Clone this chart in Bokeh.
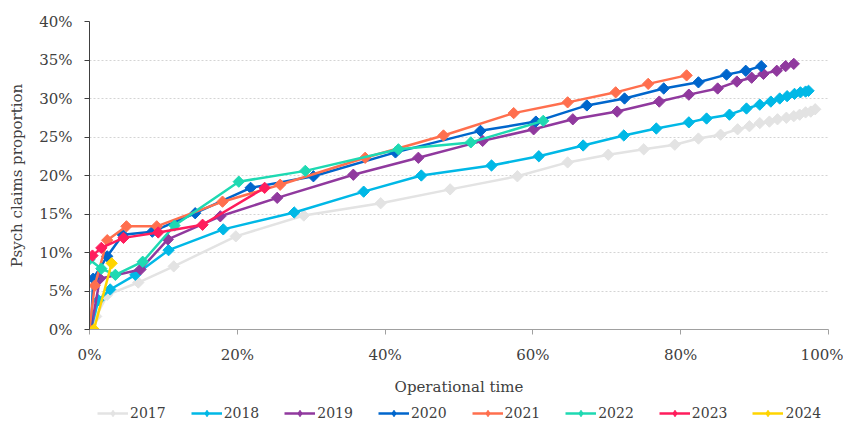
import numpy as np
from bokeh.plotting import figure
from bokeh.layouts import column
from bokeh.models import Range1d, FixedTicker, CustomJSTickFormatter, Legend, LegendItem
from bokeh.embed import file_html
from bokeh.resources import INLINE

# ---------------- data (percent) ----------------
years = ["2017", "2018", "2019", "2020", "2021", "2022", "2023", "2024"]
colors = ["#E3E3E3", "#00B8E6", "#90399E", "#0066CC", "#FF6F4E", "#1ED9B2", "#FF1D5C", "#FFD400"]

x_2017 = [0.2, 0.9, 2.4, 6.6, 11.4, 19.8, 29.0, 39.4, 48.8, 57.9, 64.7, 70.2, 75.0, 79.2,
          82.4, 85.4, 87.7, 89.3, 90.7, 92.0, 93.1, 94.3, 95.3, 96.1, 96.9, 97.6, 98.2]
y_2017 = [0.0, 1.7, 4.5, 6.1, 8.2, 12.1, 14.8, 16.4, 18.2, 19.9, 21.7, 22.7, 23.4, 24.0,
          24.8, 25.3, 26.0, 26.4, 26.8, 27.0, 27.3, 27.5, 27.7, 27.9, 28.2, 28.3, 28.6]

x_2018 = [0.2, 1.2, 2.8, 6.2, 10.7, 18.1, 27.7, 37.1, 44.9, 54.4, 60.8, 66.8, 72.3, 76.7,
          81.1, 83.5, 86.6, 88.9, 90.7, 92.2, 93.4, 94.4, 95.4, 96.2, 96.9, 97.3]
y_2018 = [0.0, 3.8, 5.2, 7.1, 10.3, 13.0, 15.2, 17.9, 20.0, 21.3, 22.5, 23.9, 25.2, 26.1,
          26.9, 27.4, 27.9, 28.7, 29.2, 29.6, 30.0, 30.3, 30.6, 30.8, 30.9, 31.0]

x_2019 = [0.2, 1.4, 6.9, 10.6, 17.7, 25.4, 35.7, 44.5, 53.2, 60.1, 65.4, 71.4, 77.1, 81.1,
          85.0, 87.6, 89.6, 91.2, 93.0, 94.2, 95.3]
y_2019 = [0.0, 6.6, 7.8, 11.7, 14.7, 17.1, 20.1, 22.3, 24.5, 26.0, 27.3, 28.3, 29.6, 30.5,
          31.3, 32.2, 32.7, 33.2, 33.6, 34.2, 34.5]

x_2020 = [0.2, 0.5, 2.4, 4.5, 8.5, 14.3, 21.8, 30.3, 41.4, 52.9, 60.4, 67.3, 72.4, 77.7,
          82.4, 86.2, 88.8, 90.9]
y_2020 = [0.0, 6.6, 9.5, 12.3, 12.7, 15.1, 18.4, 19.9, 23.0, 25.8, 27.0, 29.1, 30.0, 31.3,
          32.1, 33.1, 33.6, 34.2]

x_2021 = [0.0, 0.7, 2.4, 5.0, 9.1, 18.0, 25.8, 37.3, 47.9, 57.4, 64.7, 71.2, 75.6, 80.8]
y_2021 = [0.0, 5.7, 11.6, 13.4, 13.4, 16.6, 18.8, 22.3, 25.2, 28.1, 29.5, 30.8, 31.9, 33.0]

x_2022 = [0.0, 1.6, 3.5, 7.2, 11.5, 20.2, 29.2, 41.8, 51.6, 61.4]
y_2022 = [9.1, 7.9, 7.1, 8.8, 13.5, 19.2, 20.6, 23.4, 24.3, 27.1]

x_2023 = [0.4, 1.6, 4.6, 9.3, 15.3, 23.7]
y_2023 = [9.6, 10.6, 11.9, 12.6, 13.6, 18.4]

x_2024 = [0.6, 3.0]
y_2024 = [0.0, 8.6]

xs = [x_2017, x_2018, x_2019, x_2020, x_2021, x_2022, x_2023, x_2024]
ys = [y_2017, y_2018, y_2019, y_2020, y_2021, y_2022, y_2023, y_2024]

x_ticks = [0, 20, 40, 60, 80, 100]
y_ticks = [0, 5, 10, 15, 20, 25, 30, 35, 40]

FONT = "DejaVu Serif"
TXT = "#404040"

# ---------------- main chart ----------------
p = figure(frame_width=739, frame_height=308, output_backend="svg", toolbar_location=None,
           x_range=Range1d(0, 100), y_range=Range1d(0, 40),
           min_border_left=89, min_border_right=15, min_border_top=21, min_border_bottom=0)
p.outline_line_color = None
p.background_fill_color = "white"
p.border_fill_color = "white"

for yr, c, xv, yv in zip(years, colors, xs, ys):
    p.line(xv, yv, line_color=c, line_width=2.5)
    p.scatter(xv, yv, marker="square", angle=np.pi / 4, size=8,
              fill_color=c, line_color=c)

p.xgrid.visible = False
p.ygrid.grid_line_color = "#D4D4D4"
p.ygrid.grid_line_dash = "2 2"
p.ygrid.grid_line_width = 1

fmt = CustomJSTickFormatter(code="return tick.toFixed(0) + '%';")
for ax, ticks in ((p.xaxis[0], x_ticks), (p.yaxis[0], y_ticks)):
    ax.ticker = FixedTicker(ticks=ticks)
    ax.formatter = fmt
    ax.minor_tick_line_color = None
    ax.major_tick_in = 0
    ax.major_tick_out = 5
    ax.major_label_text_font = FONT
    ax.major_label_text_font_size = "15px"
    ax.major_label_text_color = TXT
    ax.axis_label_text_font = FONT
    ax.axis_label_text_font_size = "15px"
    ax.axis_label_text_color = TXT
    ax.axis_label_text_font_style = "normal"

p.xaxis.axis_label = "Operational time"
p.yaxis.axis_label = "Psych claims proportion"
p.xaxis.axis_line_color = "#A0A0A0"
p.xaxis.major_tick_line_color = "#A0A0A0"
p.yaxis.axis_line_color = "#404040"
p.yaxis.major_tick_line_color = "#404040"
p.xaxis.major_label_standoff = 11
p.xaxis.axis_label_standoff = 11
p.yaxis.major_label_standoff = 12
p.yaxis.axis_label_standoff = 10

# ---------------- legend strip (same series, kept off-range) ----------------
lg = figure(frame_width=739, frame_height=26, output_backend="svg", toolbar_location=None,
            x_axis_type=None, y_axis_type=None,
            x_range=Range1d(0, 100), y_range=Range1d(1000, 1001),
            min_border_left=89, min_border_right=15, min_border_top=0, min_border_bottom=0)
lg.outline_line_color = None
lg.background_fill_color = "white"
lg.border_fill_color = "white"

items = []
for yr, c, xv, yv in zip(years, colors, xs, ys):
    r1 = lg.line(xv, yv, line_color=c, line_width=2.5)
    r2 = lg.scatter(xv, yv, marker="diamond", size=12, fill_color=c, line_color=c)
    items.append(LegendItem(label=yr, renderers=[r1, r2]))

legend = Legend(items=items, orientation="horizontal", location=(8, 3),
                glyph_width=31, glyph_height=16, label_standoff=2, spacing=25,
                padding=0, margin=0, border_line_color=None,
                background_fill_alpha=0.0,
                label_text_font=FONT, label_text_font_size="14px", label_text_color=TXT)
lg.add_layout(legend, "center")

open("out.html", "w").write(file_html(column(p, lg, spacing=0), INLINE))
